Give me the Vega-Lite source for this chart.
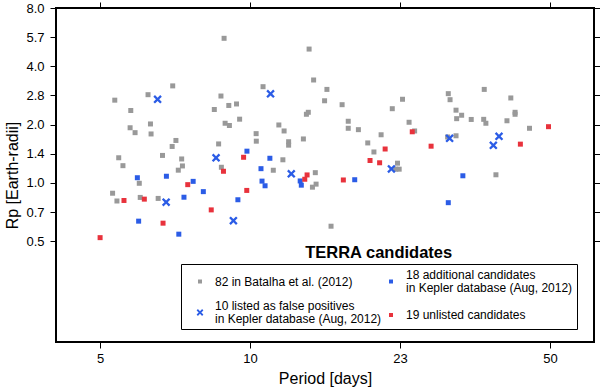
{
  "$schema": "https://vega.github.io/schema/vega-lite/v6.json",
  "width": 538,
  "height": 334,
  "autosize": "none",
  "padding": {"left": 56, "top": 8, "right": 6, "bottom": 46},
  "background": "white",
  "config": {
    "view": {"stroke": "black", "strokeWidth": 2},
    "axis": {
      "domain": false, "grid": false, "ticks": true, "tickSize": 6, "tickColor": "black", "tickWidth": 1,
      "labelFont": "Liberation Sans", "labelFontSize": 13, "labelColor": "black",
      "titleFont": "Liberation Sans", "titleFontSize": 16, "titleFontWeight": "normal", "titleColor": "black"
    }
  },
  "layer": [
    {
      "data": {"values": [
        {"period":9.43,"rp":5.58,"cat":"batalha"},{"period":14.57,"rp":4.91,"cat":"batalha"},{"period":14.91,"rp":3.40,"cat":"batalha"},{"period":7.25,"rp":3.17,"cat":"batalha"},{"period":11.51,"rp":3.14,"cat":"batalha"},{"period":15.96,"rp":3.04,"cat":"batalha"},{"period":35.7,"rp":3.04,"cat":"batalha"},{"period":6.39,"rp":2.855,"cat":"batalha"},{"period":9.28,"rp":2.81,"cat":"batalha"},{"period":29.7,"rp":2.89,"cat":"batalha"},
        {"period":5.39,"rp":2.675,"cat":"batalha"},{"period":40.9,"rp":2.746,"cat":"batalha"},{"period":23.5,"rp":2.704,"cat":"batalha"},{"period":29.97,"rp":2.69,"cat":"batalha"},{"period":15.77,"rp":2.656,"cat":"batalha"},{"period":10.05,"rp":2.557,"cat":"batalha"},{"period":17.25,"rp":2.535,"cat":"batalha"},{"period":9.66,"rp":2.512,"cat":"batalha"},{"period":22.3,"rp":2.417,"cat":"batalha"},{"period":8.97,"rp":2.394,"cat":"batalha"},
        {"period":5.85,"rp":2.366,"cat":"batalha"},{"period":30.9,"rp":2.375,"cat":"batalha"},{"period":14.51,"rp":2.316,"cat":"batalha"},{"period":14.37,"rp":2.262,"cat":"batalha"},{"period":41.8,"rp":2.316,"cat":"batalha"},{"period":41.8,"rp":2.262,"cat":"batalha"},{"period":31.8,"rp":2.236,"cat":"batalha"},{"period":31.0,"rp":2.147,"cat":"batalha"},{"period":10.21,"rp":2.134,"cat":"batalha"},{"period":33.4,"rp":2.127,"cat":"batalha"},
        {"period":35.6,"rp":2.13,"cat":"batalha"},{"period":17.8,"rp":2.082,"cat":"batalha"},{"period":40.1,"rp":2.094,"cat":"batalha"},{"period":24.3,"rp":2.057,"cat":"batalha"},{"period":9.48,"rp":2.033,"cat":"batalha"},{"period":36.0,"rp":2.033,"cat":"batalha"},{"period":6.47,"rp":2.016,"cat":"batalha"},{"period":12.48,"rp":1.992,"cat":"batalha"},{"period":9.69,"rp":1.98,"cat":"batalha"},{"period":5.83,"rp":1.927,"cat":"batalha"},
        {"period":17.8,"rp":1.915,"cat":"batalha"},{"period":45.0,"rp":1.915,"cat":"batalha"},{"period":18.75,"rp":1.884,"cat":"batalha"},{"period":12.82,"rp":1.855,"cat":"batalha"},{"period":25.0,"rp":1.855,"cat":"batalha"},{"period":5.98,"rp":1.818,"cat":"batalha"},{"period":11.11,"rp":1.797,"cat":"batalha"},{"period":6.49,"rp":1.79,"cat":"batalha"},{"period":21.06,"rp":1.773,"cat":"batalha"},{"period":30.9,"rp":1.752,"cat":"batalha"},
        {"period":14.15,"rp":1.687,"cat":"batalha"},{"period":7.37,"rp":1.657,"cat":"batalha"},{"period":11.12,"rp":1.643,"cat":"batalha"},{"period":13.12,"rp":1.632,"cat":"batalha"},{"period":19.67,"rp":1.609,"cat":"batalha"},{"period":9.17,"rp":1.59,"cat":"batalha"},{"period":13.12,"rp":1.567,"cat":"batalha"},{"period":7.23,"rp":1.543,"cat":"batalha"},{"period":20.3,"rp":1.445,"cat":"batalha"},{"period":6.88,"rp":1.387,"cat":"batalha"},
        {"period":5.5,"rp":1.349,"cat":"batalha"},{"period":7.59,"rp":1.33,"cat":"batalha"},{"period":12.74,"rp":1.317,"cat":"batalha"},{"period":22.9,"rp":1.265,"cat":"batalha"},{"period":5.62,"rp":1.228,"cat":"batalha"},{"period":9.3,"rp":1.205,"cat":"batalha"},{"period":7.62,"rp":1.224,"cat":"batalha"},{"period":22.7,"rp":1.178,"cat":"batalha"},{"period":23.1,"rp":1.178,"cat":"batalha"},{"period":7.46,"rp":1.164,"cat":"batalha"},
        {"period":12.13,"rp":1.163,"cat":"batalha"},{"period":15.04,"rp":1.13,"cat":"batalha"},{"period":37.9,"rp":1.102,"cat":"batalha"},{"period":6.11,"rp":0.996,"cat":"batalha"},{"period":15.1,"rp":0.986,"cat":"batalha"},{"period":14.82,"rp":0.951,"cat":"batalha"},{"period":5.33,"rp":0.885,"cat":"batalha"},{"period":6.14,"rp":0.842,"cat":"batalha"},{"period":6.73,"rp":0.832,"cat":"batalha"},{"period":5.45,"rp":0.807,"cat":"batalha"},
        {"period":16.3,"rp":0.598,"cat":"batalha"},{"period":29.6,"rp":1.727,"cat":"batalha"},
        {"period":6.05,"rp":1.064,"cat":"additional"},{"period":7.02,"rp":1.083,"cat":"additional"},{"period":8.05,"rp":1.019,"cat":"additional"},{"period":8.48,"rp":0.902,"cat":"additional"},{"period":7.68,"rp":0.844,"cat":"additional"},{"period":10.12,"rp":0.819,"cat":"additional"},{"period":6.09,"rp":0.635,"cat":"additional"},{"period":7.48,"rp":0.544,"cat":"additional"},{"period":10.6,"rp":1.459,"cat":"additional"},{"period":11.92,"rp":1.341,"cat":"additional"},
        {"period":11.39,"rp":1.185,"cat":"additional"},{"period":11.45,"rp":1.022,"cat":"additional"},{"period":11.63,"rp":0.967,"cat":"additional"},{"period":13.92,"rp":1.024,"cat":"additional"},{"period":14.0,"rp":0.974,"cat":"additional"},{"period":18.4,"rp":1.039,"cat":"additional"},{"period":32.0,"rp":1.089,"cat":"additional"},{"period":29.7,"rp":0.791,"cat":"additional"},
        {"period":5.0,"rp":0.522,"cat":"unlisted"},{"period":5.65,"rp":0.812,"cat":"unlisted"},{"period":6.27,"rp":0.825,"cat":"unlisted"},{"period":6.9,"rp":0.62,"cat":"unlisted"},{"period":7.83,"rp":0.98,"cat":"unlisted"},{"period":8.83,"rp":0.726,"cat":"unlisted"},{"period":9.4,"rp":1.149,"cat":"unlisted"},{"period":10.42,"rp":1.357,"cat":"unlisted"},{"period":10.59,"rp":0.915,"cat":"unlisted"},{"period":14.42,"rp":1.1,"cat":"unlisted"},
        {"period":14.25,"rp":1.045,"cat":"unlisted"},{"period":17.36,"rp":1.036,"cat":"unlisted"},{"period":19.9,"rp":1.306,"cat":"unlisted"},{"period":20.9,"rp":1.271,"cat":"unlisted"},{"period":21.5,"rp":1.497,"cat":"unlisted"},{"period":24.7,"rp":1.837,"cat":"unlisted"},{"period":27.2,"rp":1.548,"cat":"unlisted"},{"period":42.95,"rp":1.586,"cat":"unlisted"},{"period":49.6,"rp":1.952,"cat":"unlisted"},
        {"period":6.71,"rp":2.704,"cat":"falsepos"},{"period":11.96,"rp":2.886,"cat":"falsepos"},{"period":9.05,"rp":1.349,"cat":"falsepos"},{"period":13.3,"rp":1.115,"cat":"falsepos"},{"period":22.2,"rp":1.181,"cat":"falsepos"},{"period":29.9,"rp":1.701,"cat":"falsepos"},{"period":38.5,"rp":1.742,"cat":"falsepos"},{"period":37.4,"rp":1.565,"cat":"falsepos"},{"period":7.01,"rp":0.796,"cat":"falsepos"},{"period":9.89,"rp":0.639,"cat":"falsepos"}
      ]},
      "mark": {"type": "point", "filled": true, "size": 25, "opacity": 1, "strokeWidth": 0},
      "encoding": {
        "x": {"field": "period", "type": "quantitative",
          "scale": {"type": "log", "domain": [3.99, 62.6], "nice": false, "zero": false},
          "axis": {"orient": "bottom", "values": [5, 10.772, 23.208, 50], "labelExpr": "format(floor(datum.value), 'd')", "labelPadding": 4, "title": "Period [days]", "titlePadding": 5}},
        "y": {"field": "rp", "type": "quantitative",
          "scale": {"type": "log", "domain": [0.151, 8], "nice": false, "zero": false},
          "axis": {"orient": "left", "values": [0.5, 0.7071, 1, 1.4142, 2, 2.8284, 4, 5.6569, 8], "format": ".1f", "labelPadding": 6, "title": "Rp [Earth-radii]", "titlePadding": 5}},
        "color": {"field": "cat", "type": "nominal",
          "scale": {"domain": ["batalha", "falsepos", "additional", "unlisted"], "range": ["#999999", "#2b5ce6", "#2b5ce6", "#e8323c"]},
          "legend": {"orient": "none", "legendX": 125, "legendY": 256, "columns": 2, "title": null,
            "labelExpr": "datum.value == 'batalha' ? '82 in Batalha et al. (2012)' : datum.value == 'additional' ? ['18 additional candidates', 'in Kepler database (Aug, 2012)'] : datum.value == 'falsepos' ? ['10 listed as false positives', 'in Kepler database (Aug, 2012)'] : '19 unlisted candidates'",
            "labelFont": "Liberation Sans", "labelFontSize": 12, "labelColor": "black", "labelLimit": 400, "labelBaseline": "middle",
            "symbolSize": 16, "symbolStrokeWidth": 0, "symbolOpacity": 1, "symbolOffset": 10,
            "strokeColor": "black", "fillColor": "white", "padding": 4, "columnPadding": 0, "rowPadding": 5, "labelOffset": 9,
            "encode": {
              "labels": {"update": {
                "y": {"signal": "datum.value == 'unlisted' ? 16 : 7"},
                "x": {"signal": "datum.value == 'batalha' || datum.value == 'falsepos' ? 30 : 24"},
                "lineHeight": {"value": 13}}},
              "symbols": {"update": {
                "y": {"signal": "datum.value == 'batalha' ? 7 : datum.value == 'unlisted' ? 16 : 13.5"},
                "x": {"signal": "datum.value == 'batalha' || datum.value == 'falsepos' ? 15 : 9"}}}
            }}},
        "shape": {"field": "cat", "type": "nominal",
          "scale": {"domain": ["batalha", "falsepos", "additional", "unlisted"], "range": ["square", "M-1.7,-1.05L-1.05,-1.7L0,-0.65L1.05,-1.7L1.7,-1.05L0.65,0L1.7,1.05L1.05,1.7L0,0.65L-1.05,1.7L-1.7,1.05L-0.65,0Z", "square", "square"]},
          "legend": {"orient": "none", "legendX": 125, "legendY": 256, "columns": 2, "title": null}}
      }
    },
    {
      "data": {"values": [{}]},
      "mark": {"type": "text", "text": "TERRA candidates", "font": "Liberation Sans", "fontSize": 16.5, "fontWeight": "bold", "align": "center", "baseline": "middle", "color": "black"},
      "encoding": {
        "x": {"datum": 20.8, "type": "quantitative",
          "scale": {"type": "log", "domain": [3.99, 62.6], "nice": false, "zero": false},
          "axis": {"orient": "top", "values": [5, 10.772, 23.208, 50], "labels": false, "title": null}},
        "y": {"datum": 0.435, "type": "quantitative",
          "scale": {"type": "log", "domain": [0.151, 8], "nice": false, "zero": false},
          "axis": {"orient": "right", "values": [0.5, 0.7071, 1, 1.4142, 2, 2.8284, 4, 5.6569, 8], "labels": false, "title": null}}
      }
    }
  ],
  "resolve": {"axis": {"x": "independent", "y": "independent"}}
}
